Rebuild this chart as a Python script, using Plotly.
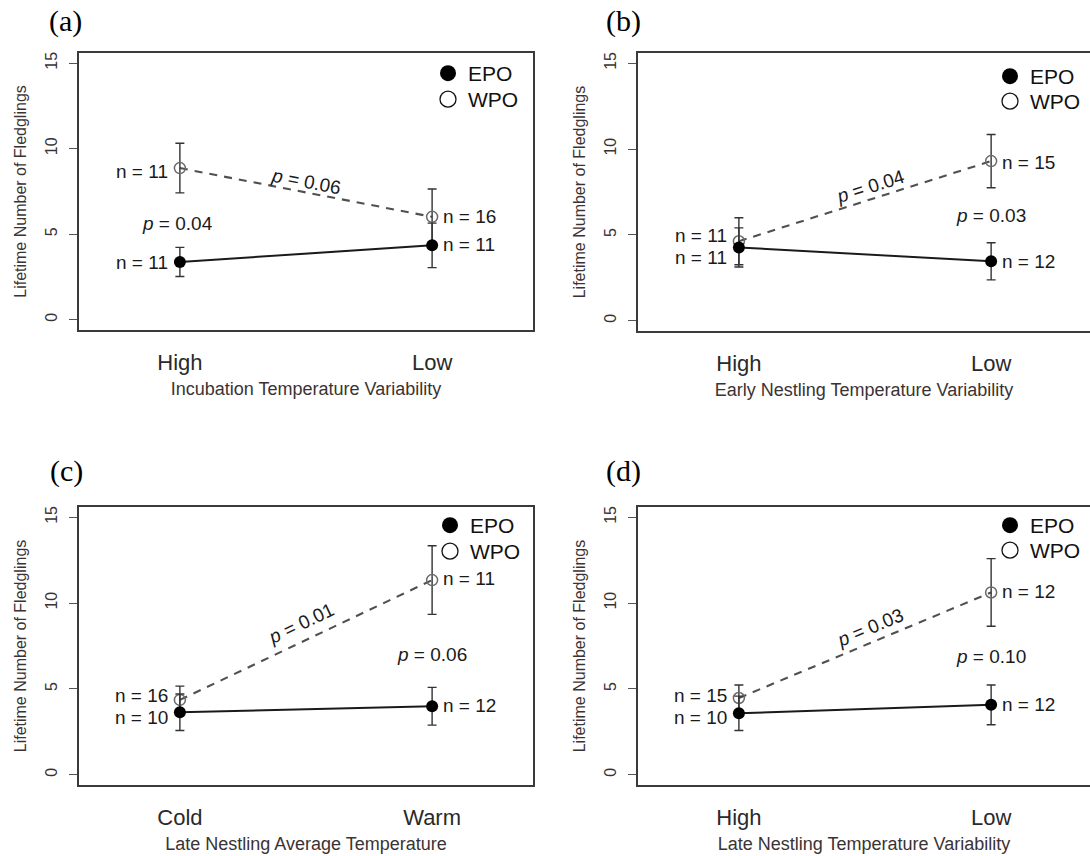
import math
import plotly.graph_objects as go

# ---------------- data ----------------
panel_ids = ["a", "b", "c", "d"]

categories_a = ["High", "Low"]
categories_b = ["High", "Low"]
categories_c = ["Cold", "Warm"]
categories_d = ["High", "Low"]

x_titles = [
    "Incubation Temperature Variability",
    "Early Nestling Temperature Variability",
    "Late Nestling Average Temperature",
    "Late Nestling Temperature Variability",
]

epo_a = [3.38, 4.35]
epo_err_a = [0.85, 1.30]
wpo_a = [8.87, 6.02]
wpo_err_a = [1.45, 1.63]

epo_b = [4.27, 3.46]
epo_err_b = [1.14, 1.08]
wpo_b = [4.63, 9.30]
wpo_err_b = [1.37, 1.55]

epo_c = [3.64, 3.99]
epo_err_c = [1.06, 1.10]
wpo_c = [4.36, 11.34]
wpo_err_c = [0.80, 2.00]

epo_d = [3.58, 4.07]
epo_err_d = [1.00, 1.16]
wpo_d = [4.47, 10.62]
wpo_err_d = [0.76, 1.97]

n_epo_a = [11, 11]
n_wpo_a = [11, 16]
n_epo_b = [11, 12]
n_wpo_b = [11, 15]
n_epo_c = [10, 12]
n_wpo_c = [16, 11]
n_epo_d = [10, 12]
n_wpo_d = [15, 12]

# p-value along the WPO line, and p-value of the EPO/WPO comparison
p_line = ["0.06", "0.04", "0.01", "0.03"]
p_pair = ["0.04", "0.03", "0.06", "0.10"]

y_ticks = [0, 5, 10, 15]

# ---------------- layout / style settings ----------------
W, H = 1090, 856
FONT = "Liberation Sans, Arial, sans-serif"
SERIF = "Liberation Serif, Times New Roman, serif"
TXT = "#1a1a1a"
AXC = "#3a3a3a"

# plot boxes in pixels (left, right, top, bottom)
boxes = {
    "a": (79, 533, 53, 330),
    "b": (638, 1090, 53, 331),
    "c": (79, 533, 507, 785),
    "d": (638, 1090, 507, 785),
}
x_ranges = {"a": [0.6, 2.4], "b": [0.6, 2.392], "c": [0.6, 2.4], "d": [0.6, 2.392]}
y_range = [-0.6, 15.6]

# label positions (style): n-label y for [EPO High, EPO Low, WPO High, WPO Low]
n_label_y = {
    "a": [3.37, 4.38, 8.66, 6.05],
    "b": [3.70, 3.46, 4.96, 9.24],
    "c": [3.36, 4.03, 4.60, 11.45],
    "d": [3.36, 4.07, 4.60, 10.67],
}
p_line_pos = {"a": (1.50, 8.10), "b": (1.52, 7.84), "c": (1.48, 8.81), "d": (1.52, 8.58)}
p_pair_pos = {"a": (0.99, 5.60), "b": (2.0, 6.13), "c": (2.0, 7.03), "d": (2.0, 6.88)}
panel_label_pos = {"a": (65, 21), "b": (623, 21), "c": (66, 471), "d": (623, 471)}
# legend symbol centres in pixels: (x, y EPO row, y WPO row)
legend_pos = {"a": (448, 73, 99), "b": (1010, 76, 101), "c": (450, 525, 551), "d": (1010, 525, 550)}

data = {
    "a": (categories_a, epo_a, epo_err_a, wpo_a, wpo_err_a, n_epo_a, n_wpo_a),
    "b": (categories_b, epo_b, epo_err_b, wpo_b, wpo_err_b, n_epo_b, n_wpo_b),
    "c": (categories_c, epo_c, epo_err_c, wpo_c, wpo_err_c, n_epo_c, n_wpo_c),
    "d": (categories_d, epo_d, epo_err_d, wpo_d, wpo_err_d, n_epo_d, n_wpo_d),
}

fig = go.Figure()
annotations = []
layout_axes = {}


def legend_name(idx):
    return "legend" if idx == 1 else f"legend{idx}"


for i, pid in enumerate(panel_ids):
    cats, epo, epo_err, wpo, wpo_err, n_epo, n_wpo = data[pid]
    k = "" if i == 0 else str(i + 1)
    xa, ya = "x" + k, "y" + k
    leg_epo = legend_name(2 * i + 1)
    leg_wpo = legend_name(2 * i + 2)
    xs = list(range(1, len(cats) + 1))

    # connecting lines
    fig.add_trace(go.Scatter(x=xs, y=wpo, mode="lines", xaxis=xa, yaxis=ya,
                             line=dict(color="#505050", width=2.1, dash="8px,7px"),
                             showlegend=False, hoverinfo="skip"))
    fig.add_trace(go.Scatter(x=xs, y=epo, mode="lines", xaxis=xa, yaxis=ya,
                             line=dict(color="#1a1a1a", width=2),
                             showlegend=False, hoverinfo="skip"))
    # markers with error bars
    fig.add_trace(go.Scatter(x=xs, y=wpo, mode="markers", xaxis=xa, yaxis=ya,
                             marker=dict(symbol="circle-open", size=11, color="#6a6a6a",
                                         line=dict(width=1.5, color="#6a6a6a")),
                             error_y=dict(type="data", array=wpo_err, color="#333333",
                                          thickness=1.4, width=4.5),
                             showlegend=False, name="WPO"))
    fig.add_trace(go.Scatter(x=xs, y=epo, mode="markers", xaxis=xa, yaxis=ya,
                             marker=dict(symbol="circle", size=12, color="#000000"),
                             error_y=dict(type="data", array=epo_err, color="#333333",
                                          thickness=1.4, width=4.5),
                             showlegend=False, name="EPO"))
    # legend entries (one legend box per row so rows sit exactly as in the reference)
    fig.add_trace(go.Scatter(x=[None], y=[None], mode="markers", xaxis=xa, yaxis=ya,
                             marker=dict(symbol="circle", size=18, color="#000000"),
                             name="EPO", legend=leg_epo))
    fig.add_trace(go.Scatter(x=[None], y=[None], mode="markers", xaxis=xa, yaxis=ya,
                             marker=dict(symbol="circle-open", size=18, color="#111111",
                                         line=dict(width=1.3, color="#111111")),
                             name="WPO", legend=leg_wpo))

    L, R, T, B = boxes[pid]
    xdom = [L / W, min(R / W, 1.0)]
    ydom = [1 - B / H, 1 - T / H]
    right_cut = R >= W

    layout_axes["xaxis" + k] = dict(
        domain=xdom, range=x_ranges[pid], anchor=ya,
        tickvals=xs, ticktext=cats, ticks="outside", ticklen=12,
        tickcolor="rgba(0,0,0,0)", tickfont=dict(family=FONT, size=22, color="#2a2a2a"),
        showline=True, mirror=True, linecolor=AXC, linewidth=1.6,
        showgrid=False, zeroline=False,
        title=dict(text=x_titles[i], font=dict(family=FONT, size=18, color="#3b3333"),
                   standoff=8),
    )
    layout_axes["yaxis" + k] = dict(
        domain=ydom, range=y_range, anchor=xa,
        tickvals=y_ticks, ticks="outside", ticklen=8, tickcolor="#555555", tickwidth=1.2,
        tickangle=-90, tickfont=dict(family=FONT, size=16, color="#3b3333"),
        ticklabelstandoff=6,
        showline=True, mirror=(not right_cut), linecolor=AXC, linewidth=1.6,
        showgrid=False, zeroline=False,
        title=dict(text="Lifetime Number of Fledglings",
                   font=dict(family=FONT, size=16, color="#3b3333"), standoff=12),
    )

    # legend placement (symbol centre ~20 px right of the legend's left edge)
    lgx, lgy1, lgy2 = legend_pos[pid]
    for leg, yy in ((leg_epo, lgy1), (leg_wpo, lgy2)):
        layout_axes[leg] = dict(
            x=(lgx - 20) / W, y=1 - (yy - 20) / H, xanchor="left", yanchor="top",
            bgcolor="rgba(0,0,0,0)", font=dict(family=FONT, size=21, color="#111111"),
            itemsizing="trace",
        )

    # n labels
    ny = n_label_y[pid]
    for j, (xv, nv, yv) in enumerate([(1, n_epo[0], ny[0]), (2, n_epo[1], ny[1]),
                                      (1, n_wpo[0], ny[2]), (2, n_wpo[1], ny[3])]):
        left = xv == 1
        annotations.append(dict(
            x=xv, y=yv, xref=xa, yref=ya, text=f"n = {nv}", showarrow=False,
            xanchor="right" if left else "left", yanchor="middle",
            xshift=-10 if left else 9,
            font=dict(family=FONT, size=19, color=TXT)))

    # p-value along WPO line, rotated with the line
    px_per_x = (min(R, W) - L) / (x_ranges[pid][1] - x_ranges[pid][0])
    px_per_y = (B - T) / (y_range[1] - y_range[0])
    ang = -math.degrees(math.atan2((wpo[1] - wpo[0]) * px_per_y, (xs[1] - xs[0]) * px_per_x))
    px, py = p_line_pos[pid]
    annotations.append(dict(
        x=px, y=py, xref=xa, yref=ya, text=f"<i>p</i> = {p_line[i]}", showarrow=False,
        textangle=ang, font=dict(family=FONT, size=19, color=TXT)))
    qx, qy = p_pair_pos[pid]
    annotations.append(dict(
        x=qx, y=qy, xref=xa, yref=ya, text=f"<i>p</i> = {p_pair[i]}", showarrow=False,
        font=dict(family=FONT, size=19, color=TXT)))

    # panel label
    lx, ly = panel_label_pos[pid]
    annotations.append(dict(
        x=lx / W, y=1 - ly / H, xref="paper", yref="paper", text=f"({pid})",
        showarrow=False, xanchor="center", yanchor="middle",
        font=dict(family=SERIF, size=30, color="#000000")))

fig.update_layout(
    width=W, height=H, margin=dict(l=0, r=0, t=0, b=0),
    paper_bgcolor="white", plot_bgcolor="white",
    annotations=annotations, showlegend=True,
    **layout_axes,
)

fig.write_html("out.html")
